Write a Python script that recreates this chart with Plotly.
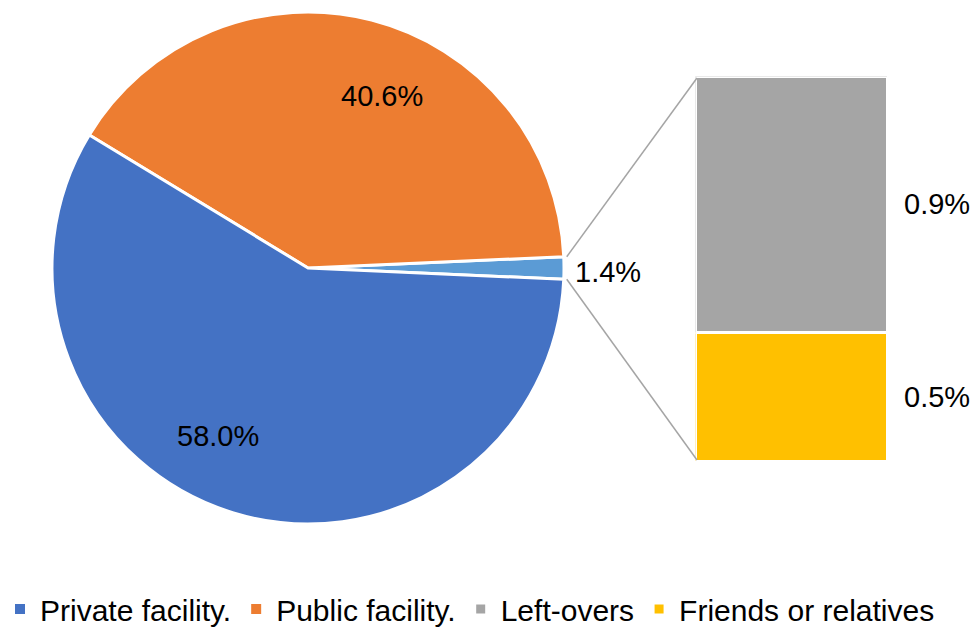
import math
import plotly.graph_objects as go

# ---- data ----
pie_labels = ["Other", "Public facility.", "Private facility."]
private_facility = 58.0
public_facility = 40.6
left_overs = 0.93
friends = 0.47
other = left_overs + friends
pie_values = [other, public_facility, private_facility]
pie_colors = ["#5B9BD5", "#ED7D31", "#4472C4"]

bar_labels = ["Friends or relatives", "Left-overs"]
bar_values = [friends, left_overs]
bar_colors = ["#FFC000", "#A5A5A5"]

legend_labels = ["Private facility.", "Public facility."]
legend_colors = ["#4472C4", "#ED7D31"]

W, H = 974, 635
FONT = "Arial, Liberation Sans, sans-serif"
FS = 29
LFS = 30

# pie geometry (pixels)
cx, cy, R = 308, 268, 256
half_other_deg = other / sum(pie_values) * 360 / 2

fig = go.Figure()
fig.add_trace(go.Pie(
    labels=pie_labels, values=pie_values, sort=False,
    direction="counterclockwise", rotation=90 - half_other_deg,
    marker=dict(colors=pie_colors, line=dict(color="white", width=3)),
    textinfo="none", showlegend=False,
    domain=dict(x=[(cx - R) / W, (cx + R) / W], y=[1 - (cy + R) / H, 1 - (cy - R) / H]),
))

# legend-only entries for pie slices
for i, (lab, col) in enumerate(zip(legend_labels, legend_colors)):
    fig.add_trace(go.Scatter(x=[None], y=[None], mode="markers", name=lab,
                             marker=dict(symbol="square", size=10, color=col),
                             legendrank=i + 1, xaxis="x", yaxis="y"))

# stacked bar
bx0, bx1, by0, by1 = 695.5, 887.5, 76.5, 461.5
for i, (lab, val, col) in enumerate(zip(bar_labels, bar_values, bar_colors)):
    fig.add_trace(go.Bar(x=[0], y=[val], name=lab, width=1,
                         marker=dict(color=col, line=dict(color="white", width=3)),
                         legendrank=4 - i, hoverinfo="name+y"))

fig.update_layout(
    width=W, height=H, margin=dict(l=0, r=0, t=0, b=0),
    paper_bgcolor="white", plot_bgcolor="white",
    barmode="stack", bargap=0,
    font=dict(family=FONT, size=FS, color="black"),
    xaxis=dict(domain=[bx0 / W, bx1 / W], range=[-0.5, 0.5], visible=False, fixedrange=True),
    yaxis=dict(domain=[1 - by1 / H, 1 - by0 / H], range=[0, other], visible=False, fixedrange=True),
    legend=dict(orientation="h", x=0, xanchor="left", y=0, yanchor="bottom",
                font=dict(family=FONT, size=LFS, color="black"),
                traceorder="normal", itemclick=False, itemdoubleclick=False),
)

# pie labels
pie_pos = [(382, 96, "center"), (218, 436, "center"), (573, 272, "left")]
pie_txt = [f"{public_facility:.1f}%", f"{private_facility:.1f}%", f"{other:.1f}%"]
for t, (px, py, anc) in zip(pie_txt, pie_pos):
    fig.add_annotation(text=t, x=px / W, y=1 - py / H, xref="paper", yref="paper",
                       xanchor=anc, yanchor="middle", showarrow=False,
                       font=dict(family=FONT, size=FS, color="black"))

# bar labels
cum = 0
for val in bar_values:
    fig.add_annotation(text=f"{val:.1f}%", x=0.5, y=cum + val / 2, xref="x", yref="y",
                       xanchor="left", yanchor="middle", xshift=14, showarrow=False,
                       font=dict(family=FONT, size=FS, color="black"))
    cum += val

# connector lines from pie's small slice to bar
a = math.radians(half_other_deg)
ex = cx + R * math.cos(a)
for sgn, by in ((1, 78), (-1, 460)):
    ey = cy - sgn * R * math.sin(a)
    fig.add_shape(type="line", xref="paper", yref="paper",
                  x0=(ex + 3) / W, y0=1 - ey / H, x1=697 / W, y1=1 - by / H,
                  line=dict(color="#A5A5A5", width=1.5))

fig.write_html("out.html", config={"displayModeBar": False},
               post_script="document.body.style.margin='0';")
